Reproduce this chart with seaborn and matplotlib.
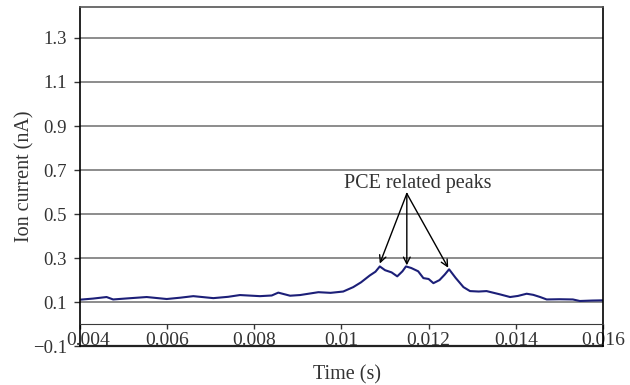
import pandas as pd
import matplotlib
matplotlib.use('Agg')
import matplotlib.pyplot as plt
import matplotlib.transforms as mtransforms
import seaborn as sns

# Ion current trace
time_s = [0.0040, 0.00430, 0.00461, 0.00476, 0.00510, 0.00553, 0.00599, 0.00630, 0.00660,
          0.00706, 0.00740, 0.00767, 0.00813, 0.00840, 0.00855, 0.00882, 0.00905, 0.00947,
          0.00975, 0.01004, 0.01027, 0.01045, 0.01065, 0.01078, 0.01088, 0.01100, 0.01115,
          0.01128, 0.01140, 0.01148, 0.01160, 0.01176, 0.01188, 0.01200, 0.01211, 0.01225,
          0.01237, 0.01247, 0.01262, 0.01280, 0.01295, 0.01315, 0.01333, 0.01364, 0.01387,
          0.01405, 0.01425, 0.01440, 0.01456, 0.01471, 0.01500, 0.01531, 0.01547, 0.01575,
          0.01600]
current_nA = [0.111, 0.116, 0.123, 0.112, 0.117, 0.123, 0.114, 0.120, 0.127,
              0.118, 0.124, 0.132, 0.127, 0.130, 0.143, 0.129, 0.132, 0.145,
              0.142, 0.148, 0.168, 0.190, 0.221, 0.238, 0.262, 0.245, 0.235,
              0.217, 0.240, 0.262, 0.255, 0.240, 0.209, 0.205, 0.186, 0.200,
              0.225, 0.249, 0.210, 0.168, 0.150, 0.148, 0.150, 0.135, 0.123,
              0.128, 0.138, 0.133, 0.123, 0.112, 0.113, 0.112, 0.105, 0.107,
              0.108]

xticks = [0.004, 0.006, 0.008, 0.01, 0.012, 0.014, 0.016]
xtick_labels = ['0.004', '0.006', '0.008', '0.01', '0.012', '0.014', '0.016']
yticks = [-0.1, 0.1, 0.3, 0.5, 0.7, 0.9, 1.1, 1.3]
ytick_labels = ['\u22120.1', '0.1', '0.3', '0.5', '0.7', '0.9', '1.1', '1.3']

peak_times = [0.01088, 0.01150, 0.01245]
peak_tips = [0.275, 0.267, 0.256]

df = pd.DataFrame({'time': time_s, 'current': current_nA})

sns.set_style('white')
plt.rcParams['font.family'] = ['Liberation Serif', 'DejaVu Serif']

fig = plt.figure(figsize=(6.3, 3.85), dpi=100)
ax = fig.add_axes([0.127, 0.101, 0.83, 0.881])

ax.set_axisbelow(True)
for y in yticks[1:]:
    ax.axhline(y, color='#6e6e6e', linewidth=1.1, zorder=0)

sns.lineplot(data=df, x='time', y='current', ax=ax, color='#1c1f78', linewidth=1.5)

ax.set_xlim(0.004, 0.016)
ax.set_ylim(-0.1, 1.441)

# x axis crosses at y = 0, box still closed at the bottom
ax.spines['bottom'].set_position(('data', 0))
ax.spines['bottom'].set_color('#3a3a3a')
ax.axhline(-0.1, color='#222222', linewidth=1.6, clip_on=False)
for side in ['left', 'right']:
    ax.spines[side].set_color('black')
    ax.spines[side].set_linewidth(1.2)
ax.spines['top'].set_color('#555555')
ax.spines['top'].set_linewidth(1.2)

ax.set_xticks(xticks)
ax.set_xticklabels(xtick_labels)
ax.set_yticks(yticks)
ax.set_yticklabels(ytick_labels)
ax.tick_params(axis='x', direction='out', length=3.5, width=1, pad=2, labelsize=14,
               colors='#333333', bottom=True)
ax.tick_params(axis='y', direction='out', length=4.5, width=1, pad=5, labelsize=13.5,
               colors='#333333', left=True)

# first x label sits a little to the right, clear of the -0.1 label
first = ax.get_xticklabels()[0]
first.set_transform(first.get_transform() +
                    mtransforms.ScaledTranslation(0.08, 0, fig.dpi_scale_trans))

ax.set_xlabel('Time (s)', fontsize=14.5, color='#333333', labelpad=0)
ax.xaxis.set_label_coords(0.51, -0.057)
ax.set_ylabel('Ion current (nA)', fontsize=14.5, color='#333333', labelpad=-1.5)

ax.text(0.01176, 0.64, 'PCE related peaks', ha='center', va='center',
        fontsize=14.5, color='#333333')
for t, v in zip(peak_times, peak_tips):
    ax.annotate('', xy=(t, v), xytext=(0.0115, 0.593),
                arrowprops=dict(arrowstyle='->', color='black', lw=1.0,
                                shrinkA=0, shrinkB=0, mutation_scale=12))

fig.savefig('out.png', dpi=100)
